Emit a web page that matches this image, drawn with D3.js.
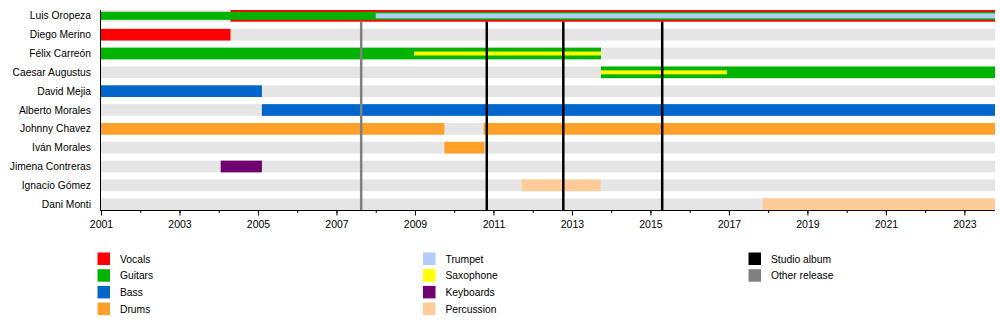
<!DOCTYPE html>
<html>
<head>
<meta charset="utf-8">
<script src="https://cdn.jsdelivr.net/npm/d3@7"></script>
<style>
  body { margin: 0; background: #fff; }
  text { font-family: "Liberation Sans", Arial, sans-serif; }
</style>
</head>
<body>
<script>

const members = ['Luis Oropeza', 'Diego Merino', 'Félix Carreón', 'Caesar Augustus', 'David Mejia',
                 'Alberto Morales', 'Johnny Chavez', 'Iván Morales', 'Jimena Contreras',
                 'Ignacio Gómez', 'Dani Monti'];

const roles = ['Vocals', 'Guitars', 'Bass', 'Drums', 'Trumpet', 'Saxophone', 'Keyboards', 'Percussion'];

const startYear = 2001;
const endYear = 2023.78;

// tier 0 = main role, higher tiers = extra roles drawn thinner on top
const spells = [
    { name: 'Luis Oropeza', role: 'Vocals', from: 2004.3, to: endYear, tier: 0 },
    { name: 'Luis Oropeza', role: 'Guitars', from: 2001, to: endYear, tier: 1 },
    { name: 'Luis Oropeza', role: 'Trumpet', from: 2008, to: endYear, tier: 2 },
    { name: 'Diego Merino', role: 'Vocals', from: 2001, to: 2004.3, tier: 0 },
    { name: 'Félix Carreón', role: 'Guitars', from: 2001, to: 2013.74, tier: 0 },
    { name: 'Félix Carreón', role: 'Saxophone', from: 2008.98, to: 2013.74, tier: 3 },
    { name: 'Caesar Augustus', role: 'Guitars', from: 2013.74, to: endYear, tier: 0 },
    { name: 'Caesar Augustus', role: 'Saxophone', from: 2013.74, to: 2016.95, tier: 3 },
    { name: 'David Mejia', role: 'Bass', from: 2001, to: 2005.1, tier: 0 },
    { name: 'Alberto Morales', role: 'Bass', from: 2005.1, to: endYear, tier: 0 },
    { name: 'Johnny Chavez', role: 'Drums', from: 2001, to: 2009.75, tier: 0 },
    { name: 'Johnny Chavez', role: 'Drums', from: 2010.75, to: endYear, tier: 0 },
    { name: 'Iván Morales', role: 'Drums', from: 2009.75, to: 2010.77, tier: 0 },
    { name: 'Jimena Contreras', role: 'Keyboards', from: 2004.05, to: 2005.1, tier: 0 },
    { name: 'Ignacio Gómez', role: 'Percussion', from: 2011.72, to: 2013.73, tier: 0 },
    { name: 'Dani Monti', role: 'Percussion', from: 2017.86, to: endYear, tier: 0 }
];

const studioAlbums = [2010.83, 2012.78, 2015.3];
const otherReleases = [2007.63];

const releaseTypes = ['Studio album', 'Other release'];

const labelYears = [2001, 2003, 2005, 2007, 2009, 2011, 2013, 2015, 2017, 2019, 2021, 2023];
const allYears = d3.range(2001, 2024);

const width = 1000;
const height = 330;
const fontSize = '10.3px';

const svg = d3.select('body')
    .append('svg')
    .attr('width', width)
    .attr('height', height);

const xScale = d3.scaleLinear()
    .domain([startYear, endYear])
    .range([101, 995]);

const yScale = d3.scaleBand()
    .domain(members)
    .range([10, 210])
    .paddingInner(0.379)
    .paddingOuter(0);

const color = d3.scaleOrdinal()
    .domain(roles)
    .range(['#ff0000', '#00b300', '#0066cc', '#ffa028', '#b3ccff', '#ffff00', '#700070', '#ffcc99']);

const releaseColor = d3.scaleOrdinal()
    .domain(releaseTypes)
    .range(['#000000', '#808080']);

const tierHeight = [1, 0.68, 0.43, 0.34];

// grey background bars
svg.append('g')
    .selectAll('rect')
    .data(members)
    .enter()
    .append('rect')
    .attr('x', xScale(startYear))
    .attr('y', (d) => yScale(d))
    .attr('width', xScale(endYear) - xScale(startYear))
    .attr('height', yScale.bandwidth())
    .style('fill', '#e5e5e5');

// member bars
svg.append('g')
    .selectAll('rect')
    .data(spells.slice().sort((a, b) => a.tier - b.tier))
    .enter()
    .append('rect')
    .attr('x', (d) => xScale(d.from))
    .attr('y', (d) => {
        let h = yScale.bandwidth() * tierHeight[d.tier];
        return yScale(d.name) + (yScale.bandwidth() - h) / 2;
    })
    .attr('width', (d) => xScale(d.to) - xScale(d.from))
    .attr('height', (d) => yScale.bandwidth() * tierHeight[d.tier])
    .style('fill', (d) => color(d.role));

// release lines
const lineTop = yScale(members[0]) + yScale.bandwidth();
const releases = studioAlbums.map((d) => ({ year: d, type: 'Studio album' }))
    .concat(otherReleases.map((d) => ({ year: d, type: 'Other release' })));

svg.append('g')
    .selectAll('line')
    .data(releases)
    .enter()
    .append('line')
    .attr('x1', (d) => xScale(d.year))
    .attr('x2', (d) => xScale(d.year))
    .attr('y1', lineTop)
    .attr('y2', 210)
    .style('stroke', (d) => releaseColor(d.type))
    .style('stroke-width', 2.5);

// x axis, minor ticks then labelled ticks
svg.append('g')
    .attr('transform', 'translate(0,210.5)')
    .call(d3.axisBottom(xScale).tickValues(allYears).tickSize(2.5).tickFormat(''))
    .call((g) => g.select('.domain').remove());

const xAxis = svg.append('g')
    .attr('transform', 'translate(0,210.5)')
    .call(d3.axisBottom(xScale)
        .tickValues(labelYears)
        .tickSize(5)
        .tickSizeOuter(0)
        .tickPadding(5)
        .tickFormat(d3.format('d')));

xAxis.select('.domain').attr('d', 'M' + xScale(startYear) + ',0H' + xScale(endYear));
xAxis.selectAll('text').style('font-size', '10.5px').style('fill', '#000').style('font-family', '"Liberation Sans", Arial, sans-serif');

// y axis line
svg.append('line')
    .attr('x1', 100.5)
    .attr('x2', 100.5)
    .attr('y1', 10)
    .attr('y2', 211)
    .style('stroke', '#000')
    .style('stroke-width', 1);

// member names
svg.append('g')
    .selectAll('text')
    .data(members)
    .enter()
    .append('text')
    .attr('x', 91)
    .attr('y', (d) => yScale(d) + yScale.bandwidth() / 2)
    .attr('dy', '0.35em')
    .attr('text-anchor', 'end')
    .style('font-size', fontSize)
    .text((d) => d);

// legend
const legendItems = roles.map((d) => ({ label: d, fill: color(d) }))
    .concat(releaseTypes.map((d) => ({ label: d, fill: releaseColor(d) })));

const legendCols = [97.5, 423, 748.5];

const legend = svg.append('g')
    .selectAll('g')
    .data(legendItems)
    .enter()
    .append('g')
    .attr('transform', (d, i) => {
        let col = Math.floor(i / 4);
        let row = i % 4;
        return 'translate(' + legendCols[col] + ',' + (252.5 + row * 16.7) + ')';
    });

legend.append('rect')
    .attr('width', 12.5)
    .attr('height', 12.5)
    .style('fill', (d) => d.fill);

legend.append('text')
    .attr('x', 22.5)
    .attr('y', 6.5)
    .attr('dy', '0.35em')
    .style('font-size', fontSize)
    .text((d) => d.label);

</script>
</body>
</html>
